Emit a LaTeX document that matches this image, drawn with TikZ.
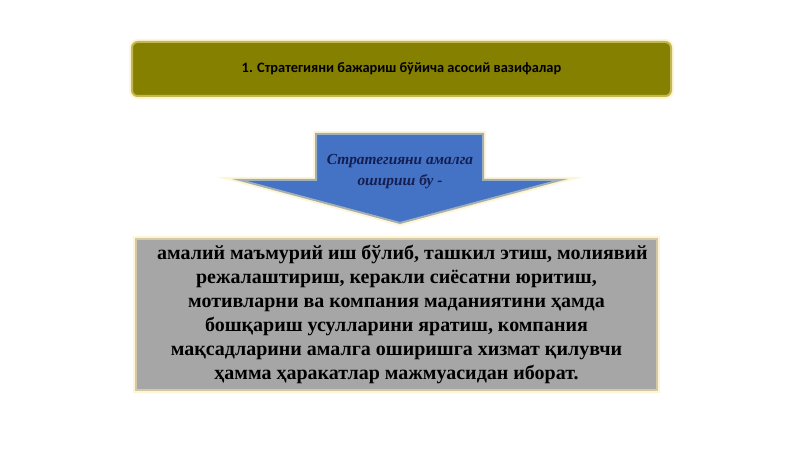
\documentclass[tikz,border=0pt]{standalone}
\usepackage{fontspec}
\setmainfont{Liberation Serif}
\newfontfamily\titlefont{Carlito}
\usepackage{tikz}

\definecolor{olivebox}{RGB}{133,128,0}
\definecolor{arrowblue}{RGB}{68,114,196}
\definecolor{graybox}{RGB}{166,166,166}
\definecolor{navytext}{RGB}{20,30,80}
\definecolor{glow}{RGB}{255,236,170}

\tikzset{
  titlebox/.style={fill=olivebox, rounded corners=5pt, minimum width=405.75pt,
    minimum height=42pt, inner sep=0pt, font=\titlefont\bfseries\fontsize{10.8}{13}\selectfont},
  textbox/.style={fill=graybox, minimum width=392.25pt, minimum height=114.75pt,
    inner sep=0pt, align=center, font=\bfseries\fontsize{15}{18}\selectfont},
  halo/.style={draw=glow, line width=3pt, draw opacity=0.5}
}

\begin{document}
\begin{tikzpicture}[x=0.75pt,y=-0.75pt]
\useasboundingbox (0,0) rectangle (800,449);
% upper box
\node[titlebox, halo] (task) at (401.5,69) {1. Стратегияни бажариш бўйича асосий вазифалар};
% arrow
\draw[halo, fill=arrowblue] (315,133) -- (484,133) -- (484,179) -- (568,179) -- (400,224) -- (232,179) -- (315,179) -- cycle;
\node[align=center, text=navytext, font=\bfseries\itshape\fontsize{11.5}{16}\selectfont] (arrowtext) at (400,171.5) {Стратегияни амалга\\ошириш бу -};
% lower box
\node[textbox, halo] (detail) at (396.5,314.5) {\hspace*{9pt}амалий маъмурий иш бўлиб, ташкил этиш, молиявий\\
режалаштириш, керакли сиёсатни юритиш,\\
мотивларни ва компания маданиятини ҳамда\\
бошқариш усулларини яратиш, компания\\
мақсадларини амалга оширишга хизмат қилувчи\\
ҳамма ҳаракатлар мажмуасидан иборат.};
\end{tikzpicture}
\end{document}
